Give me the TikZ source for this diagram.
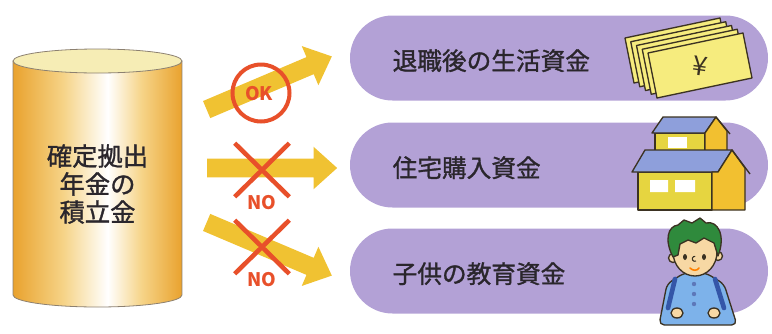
\documentclass[tikz,border=0pt]{standalone}
\usepackage{fontspec}
\setmainfont{Noto Sans CJK JP}
\newfontfamily\heavyjp[FakeBold=1.2]{Noto Sans CJK JP}
\usetikzlibrary{shapes.arrows,shapes.misc,positioning}

\definecolor{potorange}{HTML}{E9A22E}
\definecolor{potlight}{HTML}{F6D488}
\definecolor{pottop}{HTML}{F6EDB5}
\definecolor{potedge}{HTML}{8C8070}
\definecolor{barpurple}{HTML}{B3A1D6}
\definecolor{arrowgold}{HTML}{F0C232}
\definecolor{markred}{HTML}{E8502A}
\definecolor{inkgray}{HTML}{2A262C}
\definecolor{billyellow}{HTML}{F6EC7E}
\definecolor{wallyellow}{HTML}{E6D540}
\definecolor{gableorange}{HTML}{F2C030}
\definecolor{roofblue}{HTML}{8E9FDB}
\definecolor{outline}{HTML}{3B3222}
\definecolor{hairgreen}{HTML}{2F8A3C}
\definecolor{skin}{HTML}{F7D8A4}
\definecolor{coatblue}{HTML}{7DB2EA}
\definecolor{strapblue}{HTML}{3456A8}

\pgfdeclarehorizontalshading{potshade}{100bp}{color(0bp)=(potorange); color(25bp)=(potorange); color(40bp)=(potlight); color(53bp)=(white); color(63bp)=(potlight); color(75bp)=(potorange); color(100bp)=(potorange)}

\begin{document}
\begin{tikzpicture}[x=0.75pt,y=-0.75pt,
  goalbar/.style={rounded rectangle,fill=barpurple,minimum width=313.5pt,minimum height=63.75pt,inner sep=0},
  goaltext/.style={anchor=west,inner sep=0,font=\heavyjp\fontsize{18.5}{20}\selectfont,text=inkgray},
  payarrow/.style={single arrow,fill=arrowgold,inner xsep=0,inner ysep=6.75pt,single arrow head extend=9pt,single arrow tip angle=84,minimum height=102pt},
  okring/.style={circle,draw=markred,line width=3pt,minimum size=42.75pt,inner sep=0},
  nocross/.style={cross out,draw=markred,line width=3.4pt,minimum width=37.5pt,minimum height=36.75pt,inner sep=0},
  stamptext/.style={text=markred,font=\bfseries\fontsize{14}{14}\selectfont,inner sep=0},
  icon/.style={draw=outline,line width=1pt,line join=round}]

\useasboundingbox (0,0) rectangle (772,333);

% pot of savings
\shade[shading=potshade,draw=potedge,line width=.6pt] (13,61) -- (13,295) arc[start angle=180,end angle=0,x radius=84.5,y radius=12] -- (182,61) -- cycle;
\draw[fill=pottop,draw=potedge,line width=.6pt] (97.5,61) ellipse[x radius=84.5,y radius=12];
\node[align=center,font=\heavyjp\fontsize{19}{21}\selectfont,text=inkgray] (fund) at (97.5,184) {確定拠出\\年金の\\積立金};

% Nodes
\node[goalbar] (retire) at (559,58) {};
\node[goalbar] (house) at (559,165) {};
\node[goalbar] (school) at (559,271) {};
\node[goaltext] (retiretext) at ([xshift=32pt,yshift=-2pt]retire.west) {退職後の生活資金};
\node[goaltext] (housetext) at ([xshift=32pt,yshift=-2pt]house.west) {住宅購入資金};
\node[goaltext] (schooltext) at ([xshift=32pt,yshift=-2pt]school.west) {子供の教育資金};

%arrows
\node[payarrow,rotate=23] (okarrow) at (264.5,85) {};
\node[payarrow,minimum height=97.5pt] (housearrow) at (267,168) {};
\node[payarrow,rotate=-23] (schoolarrow) at (264.5,247) {};

\node[okring] (okmark) at (261,93) {};
\node[stamptext] (oklabel) at (259,94) {OK};
\node[nocross] (housemark) at (262,170) {};
\node[stamptext] (houselabel) at (262,203) {NO};
\node[nocross] (schoolmark) at (262,247) {};
\node[stamptext] (schoollabel) at (262,280) {NO};

% yen bills
\foreach \k in {4,3,2,1,0}
  \draw[icon,fill=billyellow,shift={(-5.75*\k,-3.75*\k)}] (648,53) -- (743,33) -- (752,78) -- (657,98) -- cycle;
\node[rotate=-8,font=\fontsize{20}{20}\selectfont,text=outline] (yen) at (700,66) {¥};

% house
\draw[icon,fill=wallyellow] (655,133) rectangle (705,153);
\fill[white] (668,137) rectangle (687,148);
\draw[icon,fill=roofblue] (652,133) -- (663,117) -- (716,117) -- (705,133) -- cycle;
\draw[icon,fill=gableorange] (705,153) -- (727,153) -- (727,131) -- (716,117) -- (705,133) -- cycle;
\draw[icon] (716,117) -- (730,134);
\draw[icon,fill=wallyellow] (638,172) rectangle (712,210);
\fill[white] (650,180) rectangle (668,192) (675,180) rectangle (695,192);
\draw[icon,fill=roofblue] (632,172) -- (645,150) -- (732,150) -- (718,172) -- cycle;
\draw[icon,fill=gableorange] (712,210) -- (745,210) -- (745,168) -- (732,150) -- (718,172) -- (712,172) -- cycle;
\draw[icon] (732,150) -- (750,174);

% boy
\draw[icon,fill=coatblue,rounded corners=4] (659,325) -- (667,284) -- (684,273) -- (706,273) -- (724,284) -- (737,325) -- cycle;
\draw[strapblue,line width=3.5pt,line cap=round] (675,279) -- (668,308) (715,279) -- (724,308);
\foreach \b in {284,294,304}
  \fill[strapblue!80] (694,\b) circle[radius=2.2];
\draw[icon,fill=skin] (677,313) ellipse[x radius=6,y radius=5] (714,313) ellipse[x radius=6,y radius=5];
\draw[icon,fill=skin] (673,258) circle[radius=4.5] (718,256) circle[radius=4.5];
\draw[icon,fill=skin] (695,252) ellipse[x radius=22,y radius=24];
\draw[icon,fill=hairgreen] (673,257) .. controls (664,240) and (668,226) .. (678,225) -- (684,220) -- (692,223) -- (700,218) -- (706,223) .. controls (718,220) and (726,236) .. (718,256) -- (714,243) -- (704,238) -- (696,243) -- (688,240) -- (680,244) -- (678,255) -- cycle;
\fill[outline] (685,257) ellipse[x radius=2,y radius=3] (704,257) ellipse[x radius=2,y radius=3];
\draw[outline,line width=.8pt] (696,261) arc[start angle=60,end angle=280,radius=2.5];
\draw[orange,line width=1.2pt,line cap=round] (690,268) .. controls (693,271) and (697,271) .. (699,268);

\end{tikzpicture}
\end{document}
